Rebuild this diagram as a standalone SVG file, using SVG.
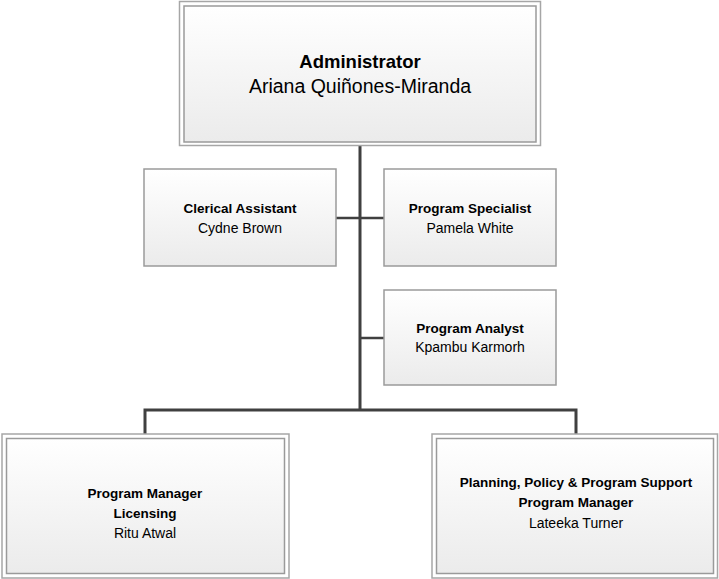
<svg xmlns="http://www.w3.org/2000/svg" width="719" height="579" viewBox="0 0 719 579">
  <defs>
    <linearGradient id="boxFill" x1="0" y1="0" x2="0" y2="1">
      <stop offset="0" stop-color="#ffffff"/>
      <stop offset="1" stop-color="#ebebeb"/>
    </linearGradient>
  </defs>
  <style>
    .frame { fill: #ffffff; stroke: #a6a6a6; stroke-width: 1.5; }
    .box { fill: url(#boxFill); stroke: #9a9a9a; stroke-width: 1.5; }
    .link { fill: none; stroke: #404040; stroke-width: 3; }
    .branch { fill: none; stroke: #404040; stroke-width: 2.5; }
    text { font-family: "Liberation Sans", Arial, sans-serif; fill: #000000; text-anchor: middle; }
    .title { font-weight: bold; font-size: 13.5px; }
    .name { font-size: 14px; }
    .bigtitle { font-weight: bold; font-size: 18.5px; }
    .bigname { font-size: 19.5px; }
  </style>

  <!-- connectors -->
  <g id="connectors">
    <line class="link" x1="360" y1="146" x2="360" y2="410"/>
    <line class="branch" x1="336" y1="218" x2="384" y2="218"/>
    <line class="branch" x1="360" y1="338" x2="384" y2="338"/>
    <polyline class="link" points="145,434 145,410 576,410 576,434"/>
  </g>

  <!-- Administrator -->
  <g id="administrator">
    <rect class="frame" x="179.5" y="1.5" width="361" height="144"/>
    <rect class="box" x="184" y="6" width="352" height="136"/>
    <text class="bigtitle" x="360" y="68">Administrator</text>
    <text class="bigname" x="360" y="93">Ariana Quiñones-Miranda</text>
  </g>

  <!-- Clerical Assistant -->
  <g id="clerical-assistant">
    <rect class="box" x="144" y="169" width="192" height="97"/>
    <text class="title" x="240" y="213">Clerical Assistant</text>
    <text class="name" x="240" y="233">Cydne Brown</text>
  </g>

  <!-- Program Specialist -->
  <g id="program-specialist">
    <rect class="box" x="384" y="169" width="172" height="97"/>
    <text class="title" x="470" y="213">Program Specialist</text>
    <text class="name" x="470" y="233">Pamela White</text>
  </g>

  <!-- Program Analyst -->
  <g id="program-analyst">
    <rect class="box" x="384" y="290" width="172" height="95"/>
    <text class="title" x="470" y="333">Program Analyst</text>
    <text class="name" x="470" y="352">Kpambu Karmorh</text>
  </g>

  <!-- Program Manager, Licensing -->
  <g id="pm-licensing">
    <rect class="frame" x="2" y="434" width="287" height="144"/>
    <rect class="box" x="6.5" y="438.5" width="278" height="135"/>
    <text class="title" x="145" y="498">Program Manager</text>
    <text class="title" x="145" y="518">Licensing</text>
    <text class="name" x="145" y="538">Ritu Atwal</text>
  </g>

  <!-- Planning, Policy & Program Support -->
  <g id="pm-planning">
    <rect class="frame" x="432" y="434" width="285.5" height="144"/>
    <rect class="box" x="436.5" y="438.5" width="277" height="135"/>
    <text class="title" x="576" y="487">Planning, Policy &amp; Program Support</text>
    <text class="title" x="576" y="507">Program Manager</text>
    <text class="name" x="576" y="528">Lateeka Turner</text>
  </g>
</svg>
